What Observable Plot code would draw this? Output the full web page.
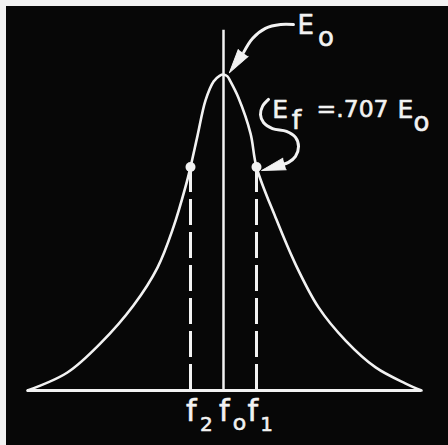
<!DOCTYPE html>
<html><head><meta charset="utf-8">
<script src="https://cdn.jsdelivr.net/npm/d3@7"></script>
<script src="https://cdn.jsdelivr.net/npm/@observablehq/plot@0.6"></script>
<style>
html,body{margin:0;padding:0;background:#f2f2f2;overflow:hidden;}
#chart{position:absolute;left:6px;top:6px;}
</style></head><body><div id="chart"></div>
<script>
// Resonance curve: detuning in units of half-bandwidth, relative amplitude E/E0
const freq = [-5.94,-4.73,-3.73,-2.73,-2.0,-1.52,-1.15,-1.0,-0.79,-0.545,-0.30,-0.12,0,0.12,0.21,0.45,0.82,1.0,1.58,2.18,2.88,3.70,4.61,5.52,6.0];
const amp  = [0,0.057,0.149,0.269,0.389,0.516,0.645,0.707,0.805,0.918,0.978,0.996,1.0,0.994,0.978,0.927,0.813,0.707,0.547,0.40,0.263,0.158,0.073,0.022,0];
const f0 = 0, f2 = -1, f1 = 1;
const halfPower = 0.707;
const lineTop = 1.14;

// annotation text
const labelText = ["E","o","E","f","=.707","E","o"];
const labelX    = [2.24,2.86,1.48,2.07,2.82,5.27,5.76];
const labelY    = [1.155,1.118,0.889,0.855,0.889,0.889,0.848];
const labelSize = [26,26,25,27,23.5,25,26];

const tickText = ["f","2","f","o","f","1"];
const tickX    = [-0.98,-0.52,0.02,0.485,0.89,1.31];
const tickY    = [-0.066,-0.109,-0.066,-0.103,-0.066,-0.109];
const tickSize = [30,20,30,22,30,20];

// annotation arrows (leader paths)
const arrowE0X = [2.12,1.73,1.27,0.88,0.61];
const arrowE0Y = [1.158,1.158,1.146,1.114,1.07];
const arrowEfX = [1.364,1.182,1.121,1.212,1.485,1.909,2.182,2.273,2.182,1.970,1.788];
const arrowEfY = [0.921,0.899,0.873,0.848,0.829,0.820,0.801,0.772,0.741,0.722,0.715];
const headX = [0.18,1.152];
const headY = [1.006,0.696];
const headRot = [215,254];

const curve = freq.map((f,i)=>({f, a: amp[i]}));
const labels = labelText.map((t,i)=>({t, x: labelX[i], y: labelY[i], s: labelSize[i]}));
const ticks = tickText.map((t,i)=>({t, x: tickX[i], y: tickY[i], s: tickSize[i]}));
const pathE0 = arrowE0X.map((x,i)=>({x, y: arrowE0Y[i]}));
const pathEf = arrowEfX.map((x,i)=>({x, y: arrowEfY[i]}));
const heads = headX.map((x,i)=>({x, y: headY[i], r: headRot[i]}));

const W = "#f2f2f2";
const chart = Plot.plot({
  width: 442, height: 439,
  marginLeft: 19, marginRight: 27, marginTop: 68, marginBottom: 55,
  x: {axis: null, domain: [-6, 6]},
  y: {axis: null, domain: [0, 1]},
  style: {background: "#070707", color: W, overflow: "visible", fontFamily: "'DejaVu Sans', sans-serif"},
  marks: [
    Plot.ruleY([0], {x1: freq[0], x2: freq[freq.length-1], stroke: W, strokeWidth: 3}),
    Plot.ruleX([f0], {y1: 0, y2: lineTop, stroke: W, strokeWidth: 2.5}),
    Plot.ruleX([f2, f1], {y1: 0, y2: halfPower, stroke: W, strokeWidth: 3, strokeDasharray: "26,7"}),
    Plot.line(curve, {x: "f", y: "a", stroke: W, strokeWidth: 2.6, curve: "catmull-rom"}),
    Plot.dot([f2, f1], {x: d => d, y: halfPower, r: 5, fill: W}),
    Plot.line(pathE0, {x: "x", y: "y", stroke: W, strokeWidth: 3, curve: "catmull-rom"}),
    Plot.line(pathEf, {x: "x", y: "y", stroke: W, strokeWidth: 3, curve: "catmull-rom"}),
    Plot.vector(heads, {x: "x", y: "y", rotate: "r", shape: "spike", length: 24, r: 6, anchor: "end", fill: W, stroke: W, strokeWidth: 1}),
    Plot.text(labels, {x: "x", y: "y", text: "t", fontSize: "s", textAnchor: "start", fill: W, stroke: W, strokeWidth: 0.6}),
    Plot.text(ticks, {x: "x", y: "y", text: "t", fontSize: "s", textAnchor: "middle", fill: W, stroke: W, strokeWidth: 0.6})
  ]
});
document.getElementById("chart").appendChild(chart);
</script></body></html>
